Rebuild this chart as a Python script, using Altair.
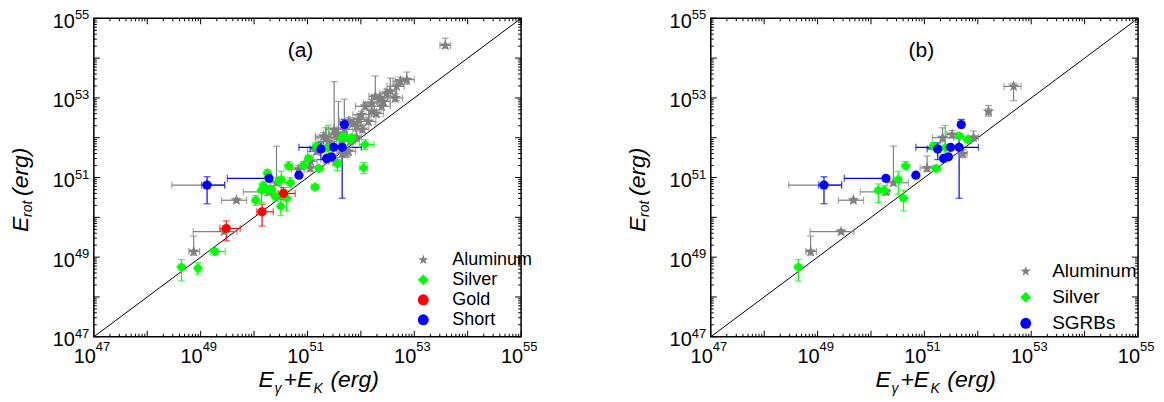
import altair as alt
import pandas as pd

F = "Liberation Sans"
W, H = 428, 319

# ---------------- data (log10 of energy in erg) ----------------
# Aluminum sample: x, y, x-low, x-high, y-low, y-high
al_x  = [48.87,49.44,49.67,49.11,50.42,50.28,51.05,51.34,51.52,51.92,52.20,52.67,51.72,
         53.58,52.86,52.55,52.64,52.36,52.27,52.20,52.39,52.08,52.01,51.95,51.86,51.92,51.77,
         51.50,51.69,51.58,51.39,51.30,51.17,51.65,51.77,51.52,51.36,51.06,50.83,52.42,52.48,
         52.74,52.03,51.80,52.14,52.29,51.64,51.45]
al_y  = [49.14,49.64,50.43,50.81,50.87,50.64,51.24,52.00,52.08,52.01,52.66,53.29,51.60,
         54.32,53.46,53.17,53.00,53.00,53.04,52.87,52.79,52.79,52.58,52.46,52.37,52.29,52.41,
         52.21,52.21,52.09,51.91,52.04,51.66,51.61,51.66,51.41,51.46,51.41,51.21,52.91,53.12,
         53.42,52.21,51.91,52.41,52.61,51.96,51.79]
al_xl = [48.78,48.86,49.39,48.46,50.30,49.80,50.92,51.15,51.42,51.82,52.15,52.49,51.65,
         53.48,52.64,52.45,52.50,52.20,52.15,52.05,52.25,51.90,51.85,51.80,51.70,51.78,51.60,
         51.35,51.55,51.40,51.20,51.15,51.00,51.55,51.65,51.40,51.25,50.95,50.70,52.30,52.35,
         52.60,51.90,51.70,52.00,52.15,51.50,51.30]
al_xh = [48.98,49.68,49.86,49.45,50.70,50.35,51.18,51.55,51.62,52.01,52.25,52.81,51.80,
         53.68,53.00,52.65,52.78,52.50,52.40,52.35,52.55,52.25,52.15,52.10,52.00,52.06,51.95,
         51.65,51.85,51.75,51.55,51.45,51.35,51.75,51.90,51.65,51.48,51.18,50.95,52.55,52.60,
         52.88,52.15,51.90,52.28,52.42,51.78,51.60]
al_yl = [49.05,49.58,50.38,50.75,50.80,50.58,51.15,51.90,52.00,51.92,52.54,52.93,51.50,
         54.25,53.35,53.05,52.90,52.90,52.95,52.78,52.70,52.70,52.50,52.38,52.28,52.20,52.32,
         52.10,52.10,52.00,51.82,51.95,51.58,51.52,51.57,51.32,51.37,51.32,51.12,52.82,53.02,
         53.32,52.12,51.82,52.32,52.52,51.87,51.70]
al_yh = [49.53,49.70,50.48,50.87,51.79,50.70,51.54,52.25,52.18,52.17,52.81,53.37,51.70,
         54.50,53.65,53.50,53.10,53.10,53.55,52.96,52.88,52.88,52.66,52.55,52.46,52.38,52.50,
         53.41,52.97,52.91,52.00,52.13,51.75,51.70,51.75,51.50,51.55,51.50,51.30,53.00,53.22,
         53.52,52.30,52.00,52.50,52.70,52.05,51.88]

# Silver sample
si_x  = [48.64,48.95,49.27,50.03,50.14,50.25,50.18,50.51,50.61,50.50,50.65,50.46,50.33,50.68,
         51.02,50.93,51.14,51.56,52.05,52.08,51.83,51.64,51.22,51.17,51.39,51.66,51.81,50.25,50.40]
si_y  = [48.75,48.72,49.14,50.43,50.68,50.68,50.80,50.95,50.48,50.28,51.29,50.91,50.70,50.87,
         51.48,51.31,50.76,51.34,51.24,51.83,52.00,52.00,51.23,51.79,51.75,52.04,51.95,51.11,50.52]
si_xl = [48.58,48.90,49.18,49.97,50.08,50.20,50.12,50.45,50.55,50.45,50.58,50.40,50.27,50.62,
         50.96,50.87,51.08,51.50,51.98,51.97,51.77,51.58,51.15,51.10,51.33,51.60,51.75,50.19,50.34]
si_xh = [48.70,49.00,49.46,50.09,50.20,50.30,50.24,50.57,50.67,50.55,50.72,50.52,50.39,50.74,
         51.08,50.99,51.20,51.62,52.12,52.25,51.89,51.70,51.30,51.25,51.45,51.72,51.87,50.31,50.46]
si_yl = [48.40,48.57,49.05,50.30,50.37,50.55,50.70,50.58,50.16,50.05,51.20,50.80,50.60,50.75,
         51.40,51.22,50.70,51.18,51.10,51.70,51.92,51.92,51.15,51.70,51.50,51.98,51.90,51.02,50.40]
si_yh = [48.94,48.86,49.22,50.55,50.84,50.80,50.90,51.16,50.68,50.50,51.40,51.00,50.80,51.00,
         51.56,51.40,50.82,51.50,51.38,51.95,52.08,52.08,51.30,51.88,52.31,52.10,52.00,51.20,50.64]

# Gold sample
go_x  = [49.48,50.15,50.55]
go_y  = [49.72,50.14,50.60]
go_xl = [49.36,50.05,50.45]
go_xh = [49.74,50.36,50.77]
go_yl = [49.41,49.78,50.45]
go_yh = [49.91,50.33,50.75]

# Short GRBs (SGRBs)
sh_x  = [49.12,50.28,50.84,51.25,51.49,51.65,51.36,51.45,51.69]
sh_y  = [50.81,50.98,51.06,51.72,51.76,51.76,51.48,51.52,52.33]
sh_xl = [49.02,49.50,50.80,51.05,51.45,50.84,51.32,51.41,51.65]
sh_xh = [49.45,50.32,50.88,51.30,51.53,52.01,51.40,51.49,51.73]
sh_yl = [50.34,50.93,51.00,51.45,51.70,50.48,51.43,51.47,52.25]
sh_yh = [51.02,51.03,51.10,51.87,51.82,52.00,51.53,51.57,52.46]

# members of panel (b) (indices into the samples above)
b_al_idx = [0,1,2,3,4,5,6,7,8,9,10,11,12]
b_si_idx = [0,4,5,7,8,10,22,23,24,25,26]

# axis ticks and labels
major_ticks = [10.0 ** k for k in range(47, 56)]
minor_ticks = [m * 10.0 ** k for k in range(47, 55) for m in range(2, 10)]
label_vals = [1e47, 1e49, 1e51, 1e53, 1e55]
label_exp = ["47", "49", "51", "53", "55"]

STAR = ("M0,-1L0.235,-0.324L0.951,-0.309L0.380,0.124L0.588,0.809L0,0.4"
        "L-0.588,0.809L-0.380,0.124L-0.951,-0.309L-0.235,-0.324Z")
COL = {"Aluminum": "#808080", "Silver": "#00ff00", "Gold": "#ff0000",
       "Short": "#0000ff", "SGRBs": "#0000ff"}
SHP = {"Aluminum": STAR, "Silver": "diamond", "Gold": "circle",
       "Short": "circle", "SGRBs": "circle"}
SIZE = {"Aluminum": 150, "Silver": 105, "Gold": 85, "Short": 85, "SGRBs": 85}


def group_df(name, xs, ys, xl, xh, yl, yh, idx=None):
    if idx is None:
        idx = list(range(len(xs)))
    d = pd.DataFrame({
        "x": [10.0 ** xs[i] for i in idx], "y": [10.0 ** ys[i] for i in idx],
        "xlo": [10.0 ** xl[i] for i in idx], "xhi": [10.0 ** xh[i] for i in idx],
        "ylo": [10.0 ** yl[i] for i in idx], "yhi": [10.0 ** yh[i] for i in idx]})
    d["group"] = name
    d["ec"] = COL[name]
    return d


XS = alt.Scale(type="log", domain=[1e47, 1e55], nice=False)
YS = alt.Scale(type="log", domain=[1e47, 1e55], nice=False)
one = pd.DataFrame({"a": [0]})


def txt(t, x, y, size, angle=0, italic=True, align="left", baseline="alphabetic"):
    kw = dict(text=t, font=F, fontSize=size, align=align, baseline=baseline, color="black")
    if italic:
        kw["fontStyle"] = "italic"
    if angle:
        kw["angle"] = angle
    return alt.Chart(one).mark_text(**kw).encode(x=alt.value(x), y=alt.value(y))


def panel(groups, tag, tagx, lx, ly, lfont, lrow, loff):
    domain = [g["group"].iloc[0] for g in groups]
    color_scale = alt.Scale(domain=domain, range=[COL[n] for n in domain])
    shape_scale = alt.Scale(domain=domain, range=[SHP[n] for n in domain])
    legend = alt.Legend(orient="none", legendX=lx, legendY=ly, title=None,
                        labelFont=F, labelFontSize=lfont, symbolSize=120,
                        symbolStrokeWidth=0, symbolOpacity=1, rowPadding=lrow,
                        labelOffset=loff, padding=0, labelColor="black")
    alld = pd.concat(groups, ignore_index=True)
    layers = []
    # inward ticks on all four sides
    for vals, ln in ((major_ticks, 6), (minor_ticks, 3)):
        td = pd.DataFrame({"v": vals})
        base = alt.Chart(td).mark_rule(color="black", strokeWidth=1)
        layers.append(base.encode(x=alt.X("v:Q", scale=XS, axis=None), y=alt.value(H), y2=alt.value(H - ln)))
        layers.append(base.encode(x=alt.X("v:Q", scale=XS, axis=None), y=alt.value(0), y2=alt.value(ln)))
        layers.append(base.encode(y=alt.Y("v:Q", scale=YS, axis=None), x=alt.value(0), x2=alt.value(ln)))
        layers.append(base.encode(y=alt.Y("v:Q", scale=YS, axis=None), x=alt.value(W), x2=alt.value(W - ln)))
    # y = x line
    diag = pd.DataFrame({"x": [1e47, 1e55], "y": [1e47, 1e55]})
    layers.append(alt.Chart(diag).mark_line(color="black", strokeWidth=1).encode(
        x=alt.X("x:Q", scale=XS, axis=None), y=alt.Y("y:Q", scale=YS, axis=None)))
    # error bars
    eb = alt.Chart(alld)
    ec = alt.Color("ec:N", scale=None)
    layers.append(eb.mark_rule(strokeWidth=1.2).encode(
        x=alt.X("xlo:Q", scale=XS, axis=None), x2="xhi:Q", y=alt.Y("y:Q", scale=YS, axis=None), color=ec))
    layers.append(eb.mark_rule(strokeWidth=1.2).encode(
        x=alt.X("x:Q", scale=XS, axis=None), y=alt.Y("ylo:Q", scale=YS, axis=None), y2="yhi:Q", color=ec))
    for f in ("xlo", "xhi"):
        layers.append(eb.mark_tick(orient="vertical", size=7, thickness=1.2).encode(
            x=alt.X(f + ":Q", scale=XS, axis=None), y=alt.Y("y:Q", scale=YS, axis=None), color=ec))
    for f in ("ylo", "yhi"):
        layers.append(eb.mark_tick(orient="horizontal", size=7, thickness=1.2).encode(
            x=alt.X("x:Q", scale=XS, axis=None), y=alt.Y(f + ":Q", scale=YS, axis=None), color=ec))
    # points
    for g in groups:
        n = g["group"].iloc[0]
        layers.append(alt.Chart(g).mark_point(filled=True, opacity=1, size=SIZE[n], strokeWidth=0).encode(
            x=alt.X("x:Q", scale=XS, axis=None), y=alt.Y("y:Q", scale=YS, axis=None),
            color=alt.Color("group:N", scale=color_scale, legend=legend),
            shape=alt.Shape("group:N", scale=shape_scale, legend=legend)))
    # tick labels
    ld = pd.DataFrame({"v": label_vals, "base": ["10"] * len(label_vals), "exp": label_exp})
    lc = alt.Chart(ld)
    layers.append(lc.mark_text(font=F, fontSize=20, align="right", baseline="alphabetic", dx=2, dy=26, color="black").encode(
        x=alt.X("v:Q", scale=XS, axis=None), y=alt.value(H), text="base:N"))
    layers.append(lc.mark_text(font=F, fontSize=13, align="left", baseline="alphabetic", dx=2, dy=14, color="black").encode(
        x=alt.X("v:Q", scale=XS, axis=None), y=alt.value(H), text="exp:N"))
    layers.append(lc.mark_text(font=F, fontSize=20, align="right", baseline="alphabetic", dx=-19, dy=9.5, color="black").encode(
        y=alt.Y("v:Q", scale=YS, axis=None), x=alt.value(0), text="base:N"))
    layers.append(lc.mark_text(font=F, fontSize=13, align="left", baseline="alphabetic", dx=-19, dy=1, color="black").encode(
        y=alt.Y("v:Q", scale=YS, axis=None), x=alt.value(0), text="exp:N"))
    # axis titles
    layers += [
        txt("E", 165, H + 50, 23), txt("\u03b3", 181, H + 56, 14),
        txt("+E", 190, H + 50, 23), txt("K", 220, H + 56, 14),
        txt("(erg)", 237, H + 50, 23),
        txt("E", -66, 214, 23, angle=270), txt("rot", -62, 199, 14, angle=270),
        txt("(erg)", -66, 178, 23, angle=270),
        txt(tag, tagx, 33, 21, italic=False, align="center", baseline="middle"),
    ]
    return alt.layer(*layers).properties(width=W, height=H)


ga = [group_df("Aluminum", al_x, al_y, al_xl, al_xh, al_yl, al_yh),
      group_df("Silver", si_x, si_y, si_xl, si_xh, si_yl, si_yh),
      group_df("Gold", go_x, go_y, go_xl, go_xh, go_yl, go_yh),
      group_df("Short", sh_x, sh_y, sh_xl, sh_xh, sh_yl, sh_yh)]
gb = [group_df("Aluminum", al_x, al_y, al_xl, al_xh, al_yl, al_yh, b_al_idx),
      group_df("Silver", si_x, si_y, si_xl, si_xh, si_yl, si_yh, b_si_idx),
      group_df("SGRBs", sh_x, sh_y, sh_xl, sh_xh, sh_yl, sh_yh)]

pa = panel(ga, "(a)", 207, 321, 233, 18, 2, 20)
pb = panel(gb, "(b)", 211, 306, 244, 19, 6, 17)

chart = alt.hconcat(pa, pb, spacing=87).resolve_scale(
    color="independent", shape="independent").resolve_legend(
    color="independent", shape="independent").properties(
    padding={"left": 1, "top": 0, "right": 0, "bottom": 0}).configure_view(
    stroke="black", strokeWidth=1.5).configure_point(opacity=1).configure_legend(
    symbolOpacity=1)

chart.save("out.html", embed_options={"renderer": "svg", "actions": False})
